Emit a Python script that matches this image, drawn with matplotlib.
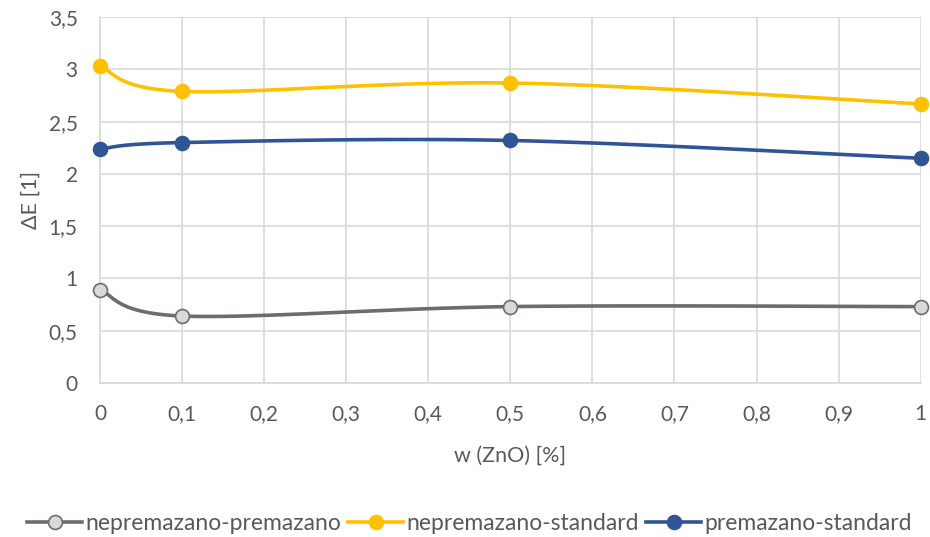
import numpy as np
import matplotlib
matplotlib.use("Agg")
import matplotlib.pyplot as plt
from matplotlib.ticker import FuncFormatter

plt.rcParams['font.family'] = ['Lato', 'DejaVu Sans']

x = [0, 0.1, 0.5, 1]
nep_prem = [0.89, 0.64, 0.73, 0.73]
nep_std = [3.03, 2.79, 2.87, 2.67]
prem_std = [2.24, 2.30, 2.32, 2.15]

names = ['nepremazano-premazano', 'nepremazano-standard', 'premazano-standard']
colors = ['#706C6C', '#FFC000', '#2F5597']
faces = ['#D9D9D9', '#FFC000', '#2F5597']


def smooth(xs, ys, n=40):
    # excel-like smoothing: bezier with catmull-rom control points
    xs = np.asarray(xs, float)
    ys = np.asarray(ys, float)
    px = np.concatenate([[xs[0]], xs, [xs[-1]]])
    py = np.concatenate([[ys[0]], ys, [ys[-1]]])
    ox, oy = [], []
    t = np.linspace(0, 1, n)
    for i in range(1, len(px) - 2):
        p0 = np.array([px[i], py[i]])
        p3 = np.array([px[i + 1], py[i + 1]])
        c1 = p0 + (np.array([px[i + 1], py[i + 1]]) - np.array([px[i - 1], py[i - 1]])) / 6
        c2 = p3 - (np.array([px[i + 2], py[i + 2]]) - np.array([px[i], py[i]])) / 6
        b = ((1 - t) ** 3)[:, None] * p0 + (3 * (1 - t) ** 2 * t)[:, None] * c1 \
            + (3 * (1 - t) * t ** 2)[:, None] * c2 + (t ** 3)[:, None] * p3
        ox.extend(b[:, 0])
        oy.extend(b[:, 1])
    return ox, oy


fig, ax = plt.subplots(figsize=(9.3, 5.37), dpi=100)
fig.subplots_adjust(left=0.1075, right=0.990, bottom=0.287, top=0.968)

for ys, name, c, f in zip([nep_prem, nep_std, prem_std], names, colors, faces):
    sx, sy = smooth(x, ys)
    ax.plot(sx, sy, color=c, lw=2.6, zorder=3, clip_on=False)
    ax.plot(x, ys, 'o', ms=10, mfc=f, mec=c, mew=1.2, zorder=4, clip_on=False)
    ax.plot([], [], color=c, lw=2.6, marker='o', ms=10, mfc=f, mec=c, mew=1.2, label=name)

ax.set_xlim(0, 1)
ax.set_ylim(0, 3.5)
ax.set_xticks(np.arange(0, 1.01, 0.1))
ax.set_yticks(np.arange(0, 3.51, 0.5))
fmt = FuncFormatter(lambda v, p: ('%g' % round(v, 2)).replace('.', ','))
ax.xaxis.set_major_formatter(fmt)
ax.yaxis.set_major_formatter(fmt)
ax.grid(True, color='#D9D9D9', lw=1.2)
ax.set_axisbelow(True)
for s in ['top', 'right']:
    ax.spines[s].set_visible(False)
for s in ['left', 'bottom']:
    ax.spines[s].set_color('#D9D9D9')
    ax.spines[s].set_linewidth(1.2)
ax.tick_params(length=0, labelsize=15, colors='#595959')
ax.tick_params(axis='x', pad=15)
ax.tick_params(axis='y', pad=16)

ax.set_xlabel('w (ZnO) [%]', fontsize=15.5, color='#595959', labelpad=16)
ax.set_ylabel('ΔE [1]', fontsize=15.5, color='#595959', labelpad=6)

fig.legend(loc='lower center', bbox_to_anchor=(0.505, -0.033), ncol=3, frameon=False,
           fontsize=16.5, labelcolor='#595959', handlelength=2.4, handletextpad=0.15,
           columnspacing=0.3)

fig.savefig('out.png', dpi=100)
